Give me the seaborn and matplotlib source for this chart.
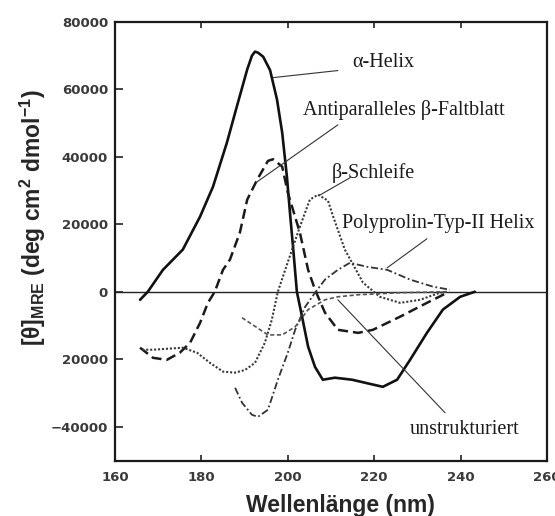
import matplotlib
matplotlib.use("Agg")
import matplotlib.pyplot as plt
import pandas as pd
import seaborn as sns

# CD spectra of secondary structure elements (mean residue ellipticity)
helix_nm = [165.8, 167.6, 171.1, 175.7, 179.7, 182.7, 185.9, 188.2, 190.6, 191.7,
            192.4, 193.1, 194.3, 195.9, 197.5, 198.7, 199.8, 200.6, 201.3, 202.1,
            203.3, 204.7, 206.3, 208.1, 210.9, 214.9, 217.9, 222.0, 225.3, 228.3,
            232.2, 235.9, 239.9, 243.3]
helix_val = [-2400, 0, 6500, 12500, 22300, 31200, 44200, 54900, 65900, 70000,
             71200, 70900, 69700, 65700, 57000, 47200, 34000, 22000, 12000, 0,
             -7400, -16300, -22300, -26100, -25500, -26100, -27000, -28200, -26100, -20200,
             -12200, -5300, -1500, 0]

sheet_nm = [165.8, 168.8, 172.0, 175.0, 177.4, 179.7, 181.5, 183.1, 185.0, 186.6,
            188.9, 190.6, 192.9, 195.4, 196.6, 198.7, 200.0, 202.8, 204.7, 206.3,
            208.6, 211.6, 216.3, 219.7, 226.0, 232.2, 236.9]
sheet_val = [-16600, -19600, -20200, -18100, -15100, -9200, -3300, 0, 6500, 9500,
             17500, 27300, 33200, 38800, 39300, 37100, 29400, 17500, 6500, 600,
             -6200, -11300, -12200, -11300, -7400, -3300, -300]

turn_nm = [166.3, 168.8, 175.7, 179.0, 182.0, 185.0, 187.8, 190.1, 192.4, 194.7,
           196.3, 197.7, 199.4, 202.8, 205.1, 207.0, 209.3, 210.5, 213.2, 217.4,
           221.3, 226.0, 230.6, 235.2, 236.9]
turn_val = [-17200, -17200, -16600, -18100, -21100, -23700, -24000, -23200, -21100, -15100,
            -8300, 0, 6500, 19300, 27300, 28800, 27000, 22300, 12500, 2700,
            -1500, -3300, -2400, -300, 0]

ppii_nm = [187.8, 189.4, 191.7, 193.1, 195.4, 197.7, 200.0, 201.7, 204.0, 206.3,
           208.6, 211.6, 214.4, 218.3, 223.0, 228.3, 233.6, 237.5]
ppii_val = [-28500, -32900, -36500, -37100, -35000, -26100, -18100, -11300, -4500, -300,
            3600, 6500, 8600, 7400, 6500, 3600, 1500, 600]

coil_nm = [189.4, 195.4, 198.7, 201.7, 204.7, 208.6, 211.6, 216.3, 226.0, 236.9]
coil_val = [-7700, -12800, -12800, -10400, -5300, -2400, -1500, -900, -300, 0]

labels = ["\u03b1-Helix", "Antiparalleles \u03b2-Faltblatt", "\u03b2-Schleife",
          "Polyprolin-Typ-II Helix", "unstrukturiert"]

x_ticks = [160, 180, 200, 220, 240, 260]
y_ticks = [-40000, -20000, 0, 20000, 40000, 60000, 80000]
y_tick_text = ["\u221240000", "20000", "0", "20000", "40000", "60000", "80000"]

series = [
    (labels[0], helix_nm, helix_val),
    (labels[1], sheet_nm, sheet_val),
    (labels[2], turn_nm, turn_val),
    (labels[3], ppii_nm, ppii_val),
    (labels[4], coil_nm, coil_val),
]
df = pd.concat(
    [pd.DataFrame({"nm": x, "theta": y, "struktur": name}) for name, x, y in series],
    ignore_index=True,
)

sns.set_style("white")
plt.rcParams["font.family"] = ["Liberation Sans", "DejaVu Sans"]
plt.rcParams["mathtext.fontset"] = "custom"
plt.rcParams["mathtext.rm"] = "Liberation Sans:bold"
plt.rcParams["mathtext.bf"] = "Liberation Sans:bold"
plt.rcParams["mathtext.it"] = "Liberation Sans:bold"

fig = plt.figure(figsize=(5.55, 5.16), dpi=100)
ax = fig.add_axes([0.2072, 0.1066, 0.7784, 0.8508])

styles = {
    labels[0]: dict(color="#111111", lw=1.9, linestyle="-"),
    labels[1]: dict(color="#1a1a1a", lw=1.8, linestyle=(0, (4, 2))),
    labels[2]: dict(color="#3a3a3a", lw=1.5, linestyle=(0, (1, 0.9))),
    labels[3]: dict(color="#333333", lw=1.3, linestyle=(0, (4, 1.5, 1, 1.5))),
    labels[4]: dict(color="#555555", lw=1.2, linestyle=(0, (2.5, 1.5))),
}
for name in labels:
    sub = df[df["struktur"] == name]
    sns.lineplot(data=sub, x="nm", y="theta", ax=ax, estimator=None,
                 legend=False, solid_joinstyle="round", dash_joinstyle="round",
                 **styles[name])

ax.axhline(0, color="#222222", lw=1.0, zorder=1)

# curve labels with leader lines: (label, anchor on curve, line end, text position)
callouts = [
    (labels[0], (196.6, 63500), (211.6, 65600), (214.9, 68000)),
    (labels[1], (192.9, 32600), (211.6, 49500), (203.5, 54000)),
    (labels[2], (207.2, 28500), (214.4, 33800), (210.2, 35300)),
    (labels[3], (223.0, 7100), (232.2, 15700), (212.5, 20200)),
    (labels[4], (211.6, -2400), (236.4, -35900), (228.3, -41000)),
]
for text, anchor, end, pos in callouts:
    ax.annotate("", xy=anchor, xytext=end,
                arrowprops=dict(arrowstyle="-", lw=0.8, color="#333333",
                                shrinkA=0, shrinkB=0))
    ax.text(pos[0], pos[1], text, family=["Liberation Serif", "DejaVu Serif"],
            fontsize=14.5, color="#1a1a1a", ha="left", va="center")

ax.set_xlim(160, 260)
ax.set_ylim(-50200, 80000)
ax.set_xticks(x_ticks)
ax.set_yticks(y_ticks)
ax.set_xticklabels([str(v) for v in x_ticks])
ax.set_yticklabels(y_tick_text)

ax.tick_params(axis="x", direction="in", length=4, width=1.2, top=True, bottom=True,
               pad=7, labelsize=9.5, labelcolor="#3a3a3a", color="#222222")
ax.tick_params(axis="y", direction="in", length=6, width=1.2, left=True, right=False,
               pad=5, labelsize=9.5, labelcolor="#3a3a3a", color="#222222")
for lab in ax.get_xticklabels() + ax.get_yticklabels():
    lab.set_fontweight("bold")
    lab.set_family(["DejaVu Sans"])

for side, sp in ax.spines.items():
    sp.set_visible(True)
    sp.set_color("#1a1a1a")
    sp.set_linewidth(1.6)

ax.set_xlabel("Wellenl\u00e4nge (nm)", fontsize=16.5, fontweight="bold", va="center")
ax.xaxis.set_label_coords(0.521, -0.1025)
ax.set_ylabel(r"[$\theta$]$_{\mathrm{MRE}}$ (deg cm$^{2}$ dmol$^{-1}$)",
              fontsize=16.5, fontweight="bold", va="center")
ax.yaxis.set_label_coords(-0.19, 0.555)

fig.savefig("out.png", dpi=100)
